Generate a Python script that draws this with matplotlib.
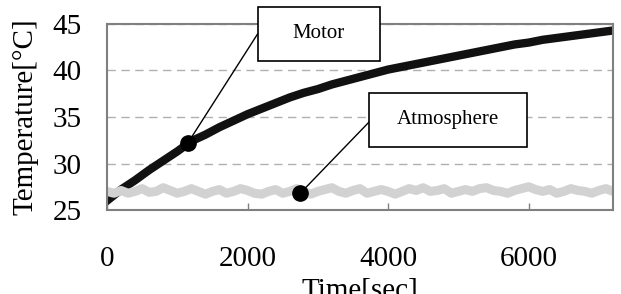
import matplotlib.pyplot as plt
from matplotlib.patches import Rectangle

plt.rcParams['font.family'] = ['Liberation Serif', 'DejaVu Serif']

# motor temperature, sampled every 200 s
motor_time = list(range(0, 7201, 200))
motor_temp = [26.0, 27.2, 28.2, 29.3, 30.3, 31.3, 32.4, 33.1, 33.9, 34.6,
              35.3, 35.9, 36.5, 37.1, 37.6, 38.0, 38.5, 38.9, 39.3, 39.7,
              40.1, 40.4, 40.7, 41.0, 41.3, 41.6, 41.9, 42.2, 42.5, 42.8,
              43.0, 43.3, 43.5, 43.7, 43.9, 44.1, 44.3]

# atmosphere temperature, sampled every 100 s
atm_time = list(range(0, 7201, 100))
atm_temp = [27.0, 26.8, 27.1, 26.8, 27.0, 27.3, 26.9, 27.0, 27.4, 27.1,
            26.8, 27.0, 27.3, 27.0, 26.7, 27.0, 27.2, 26.8, 27.0, 27.3,
            27.1, 26.8, 26.7, 27.0, 27.2, 26.8, 27.0, 27.3, 27.0, 26.7,
            27.0, 27.2, 27.4, 27.0, 26.8, 27.1, 27.3, 26.8, 27.0, 27.2,
            27.0, 26.7, 27.0, 27.3, 27.1, 27.4, 27.0, 27.1, 27.3, 26.8,
            27.0, 27.2, 27.0, 27.3, 27.4, 27.1, 27.0, 26.8, 27.1, 27.3,
            27.5, 27.2, 27.0, 27.2, 26.8, 27.0, 27.3, 27.1, 27.0, 26.8,
            27.1, 27.3, 27.0]

x_ticks = [0, 2000, 4000, 6000]
y_ticks = [25, 30, 35, 40, 45]

# labelled points
motor_pt = (1150, 32.2)
atm_pt = (2750, 26.8)

fig = plt.figure(figsize=(6.21, 2.94), dpi=100)
ax = fig.add_axes([0.1723, 0.2857, 0.8148, 0.6327])

ax.plot(motor_time, motor_temp, color='#111111', lw=6, zorder=3)
ax.plot(atm_time, atm_temp, color='#d2d2d2', lw=6.5, zorder=4)

ax.set_xlim(0, 7200)
ax.set_ylim(25, 45)
ax.set_xticks(x_ticks)
ax.set_yticks(y_ticks)
ax.tick_params(axis='x', direction='in', length=5, width=1, color='#808080', pad=26, labelsize=21)
ax.tick_params(axis='y', length=0, pad=18, labelsize=21)
ax.grid(axis='y', color='#b0b0b0', ls=(0, (6, 4)), lw=1)
for s in ax.spines.values():
    s.set_color('#808080')
    s.set_linewidth(1.5)
    s.set_zorder(5)

ax.set_ylabel('Temperature[°C]', fontsize=21, labelpad=10)
ax.set_xlabel('Time[sec]', fontsize=21, labelpad=4)

# callout boxes
ax.add_patch(Rectangle((2143, 41.02), 1743, 5.81, fc='white', ec='black', lw=1.2,
                       clip_on=False, zorder=6))
ax.text(3015, 43.93, 'Motor', ha='center', va='center', fontsize=15, zorder=7)
ax.plot([2143, motor_pt[0]], [43.93, motor_pt[1]], color='black', lw=1, clip_on=False, zorder=5)
ax.plot(*motor_pt, 'o', color='black', ms=11, zorder=8)

ax.add_patch(Rectangle((3729, 31.77), 2242, 5.81, fc='white', ec='black', lw=1.2,
                       clip_on=False, zorder=6))
ax.text(4850, 34.68, 'Atmosphere', ha='center', va='center', fontsize=15, zorder=7)
ax.plot([3729, atm_pt[0]], [34.46, atm_pt[1]], color='black', lw=1, zorder=5)
ax.plot(*atm_pt, 'o', color='black', ms=11, zorder=8)

fig.savefig('out.png', dpi=100)
